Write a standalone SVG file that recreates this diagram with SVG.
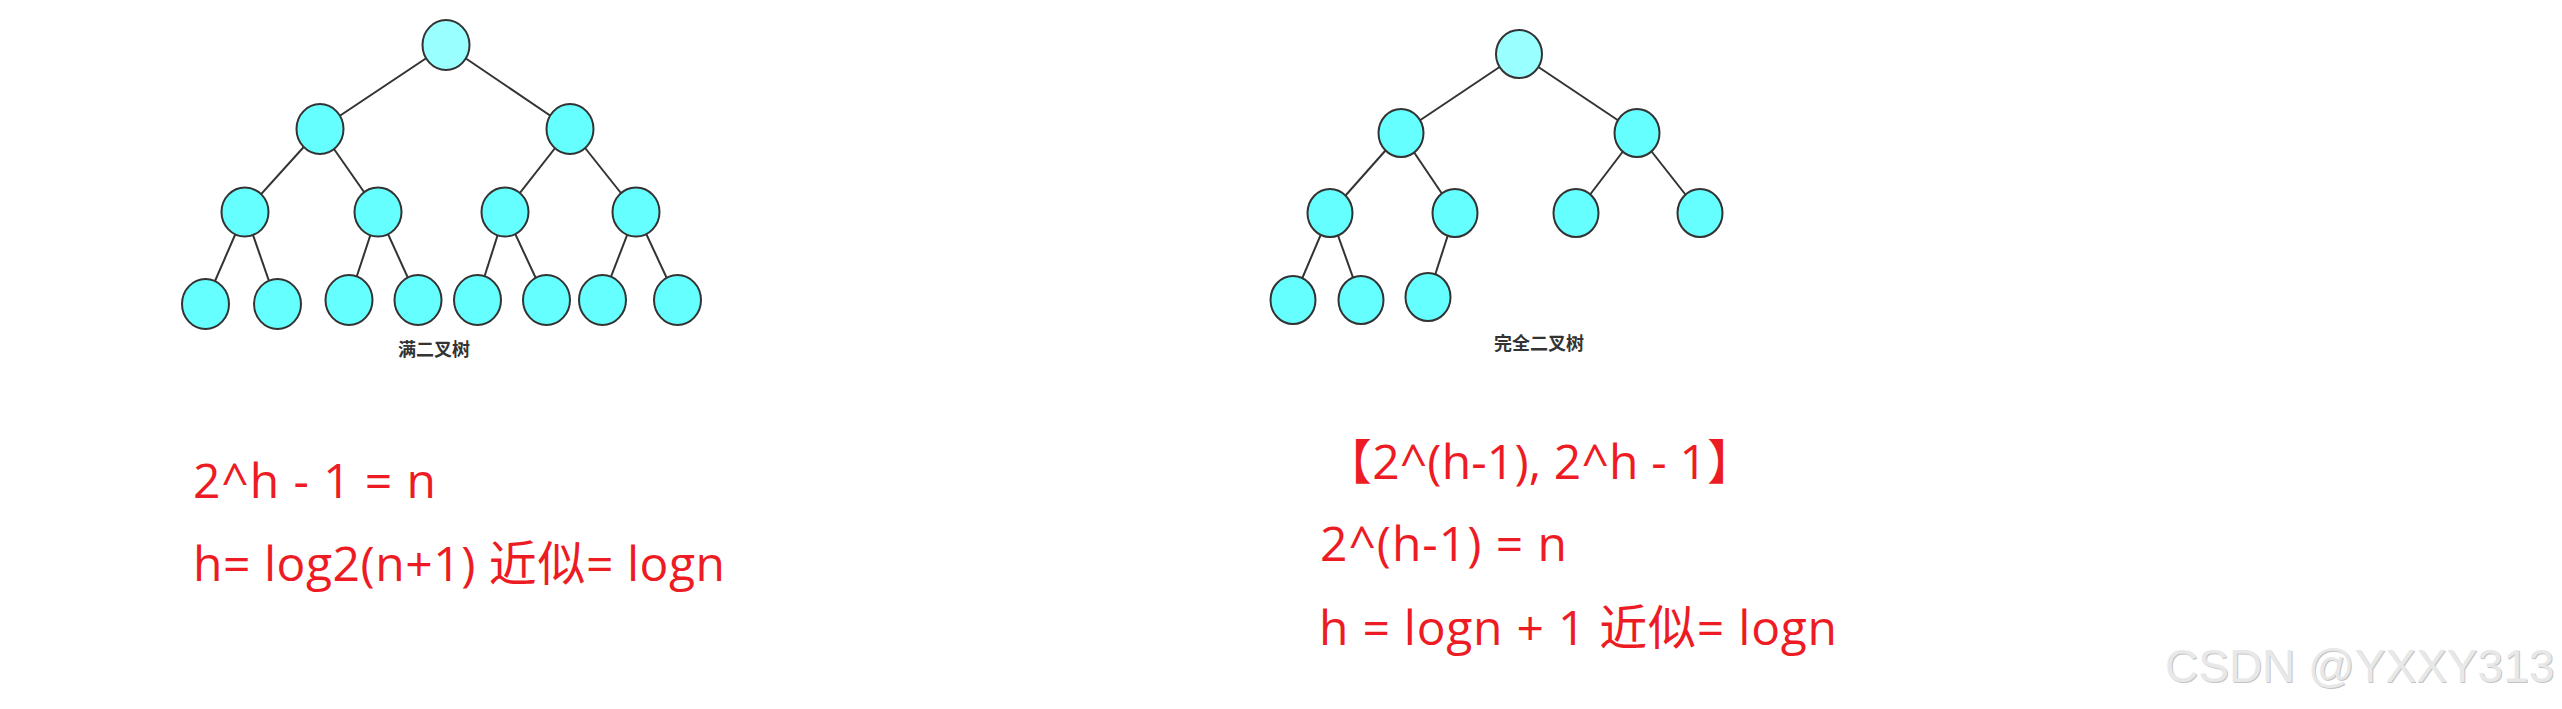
<svg xmlns="http://www.w3.org/2000/svg" width="2562" height="709" viewBox="0 0 2562 709">
<style>
.n{fill:#66FFFF;stroke:#333;stroke-width:2}
.r{fill:#99FFFF;stroke:#333;stroke-width:2}
.e line{stroke:#333;stroke-width:2}
.lbl{font-family:"Noto Sans CJK SC",sans-serif;font-weight:bold;font-size:18px;fill:#333;text-anchor:middle}
.f{font-family:"Open Sans","Noto Sans CJK SC",sans-serif;font-size:48px;fill:#ED1C24}
.wm{font-family:"Liberation Sans",Arial,sans-serif;font-size:46px}
</style>
<rect width="2562" height="709" fill="#fff"/>
<g id="connectors" class="e">
<line x1="446" y1="45" x2="320" y2="129"/>
<line x1="446" y1="45" x2="570" y2="129"/>
<line x1="320" y1="129" x2="245" y2="212"/>
<line x1="320" y1="129" x2="378" y2="212"/>
<line x1="570" y1="129" x2="505" y2="212"/>
<line x1="570" y1="129" x2="636" y2="212"/>
<line x1="245" y1="212" x2="205" y2="304"/>
<line x1="245" y1="212" x2="277" y2="304"/>
<line x1="378" y1="212" x2="349" y2="300"/>
<line x1="378" y1="212" x2="418" y2="300"/>
<line x1="505" y1="212" x2="477" y2="300"/>
<line x1="505" y1="212" x2="546" y2="300"/>
<line x1="636" y1="212" x2="602" y2="300"/>
<line x1="636" y1="212" x2="677" y2="300"/>
<line x1="1519" y1="54" x2="1401" y2="133"/>
<line x1="1519" y1="54" x2="1637" y2="133"/>
<line x1="1401" y1="133" x2="1330" y2="213"/>
<line x1="1401" y1="133" x2="1455" y2="213"/>
<line x1="1637" y1="133" x2="1576" y2="213"/>
<line x1="1637" y1="133" x2="1700" y2="213"/>
<line x1="1330" y1="213" x2="1293" y2="300"/>
<line x1="1330" y1="213" x2="1361" y2="300"/>
<line x1="1455" y1="213" x2="1428" y2="297"/>
</g>
<g id="full-tree">
<g id="f1"><ellipse class="r" cx="446" cy="45" rx="23.5" ry="25"/></g>
<g id="f2"><ellipse class="n" cx="320" cy="129" rx="23.5" ry="25"/></g>
<g id="f3"><ellipse class="n" cx="570" cy="129" rx="23.5" ry="25"/></g>
<g id="f4"><ellipse class="n" cx="245" cy="212" rx="23.5" ry="24.5"/></g>
<g id="f5"><ellipse class="n" cx="378" cy="212" rx="23.5" ry="24.5"/></g>
<g id="f6"><ellipse class="n" cx="505" cy="212" rx="23.5" ry="24.5"/></g>
<g id="f7"><ellipse class="n" cx="636" cy="212" rx="23.5" ry="24.5"/></g>
<g id="f8"><ellipse class="n" cx="205.5" cy="304" rx="23.5" ry="25"/></g>
<g id="f9"><ellipse class="n" cx="277.5" cy="304" rx="23.5" ry="25"/></g>
<g id="f10"><ellipse class="n" cx="349" cy="300" rx="23.5" ry="25"/></g>
<g id="f11"><ellipse class="n" cx="418" cy="300" rx="23.5" ry="25"/></g>
<g id="f12"><ellipse class="n" cx="477.5" cy="300" rx="23.5" ry="25"/></g>
<g id="f13"><ellipse class="n" cx="546.5" cy="300" rx="23.5" ry="25"/></g>
<g id="f14"><ellipse class="n" cx="602.5" cy="300" rx="23.5" ry="25"/></g>
<g id="f15"><ellipse class="n" cx="677.5" cy="300" rx="23.5" ry="25"/></g>
<g id="full-label"><text class="lbl" x="434" y="356">满二叉树</text></g>
</g>
<g id="complete-tree">
<g id="c1"><ellipse class="r" cx="1519" cy="54" rx="23" ry="24"/></g>
<g id="c2"><ellipse class="n" cx="1401" cy="133" rx="22.5" ry="24"/></g>
<g id="c3"><ellipse class="n" cx="1637" cy="133" rx="22.5" ry="24"/></g>
<g id="c4"><ellipse class="n" cx="1330" cy="213" rx="22.5" ry="24"/></g>
<g id="c5"><ellipse class="n" cx="1455" cy="213" rx="22.5" ry="24"/></g>
<g id="c6"><ellipse class="n" cx="1576" cy="213" rx="22.5" ry="24"/></g>
<g id="c7"><ellipse class="n" cx="1700" cy="213" rx="22.5" ry="24"/></g>
<g id="c8"><ellipse class="n" cx="1293" cy="300" rx="22.5" ry="24"/></g>
<g id="c9"><ellipse class="n" cx="1361" cy="300" rx="22.5" ry="24"/></g>
<g id="c10"><ellipse class="n" cx="1428" cy="297" rx="22.5" ry="24"/></g>
<g id="complete-label"><text class="lbl" x="1539" y="350">完全二叉树</text></g>
</g>
<g id="formulas-left">
<text class="f" x="193" y="498" textLength="243" lengthAdjust="spacing">2^h - 1 = n</text>
<text class="f" x="193" y="581" textLength="532" lengthAdjust="spacing">h= log2(n+1) 近似= logn</text>
</g>
<g id="formulas-right">
<text class="f" x="1324" y="479" textLength="431" lengthAdjust="spacing">【2^(h-1), 2^h - 1】</text>
<text class="f" x="1320" y="561" textLength="247" lengthAdjust="spacing">2^(h-1) = n</text>
<text class="f" x="1319" y="645" textLength="518" lengthAdjust="spacing">h = logn + 1 近似= logn</text>
</g>
<g id="watermark">
<text class="wm" x="2166" y="683" fill="#c4c4c4">CSDN @YXXY313</text>
<text class="wm" x="2165" y="682" fill="#e8e8e8">CSDN @YXXY313</text>
</g>
</svg>
